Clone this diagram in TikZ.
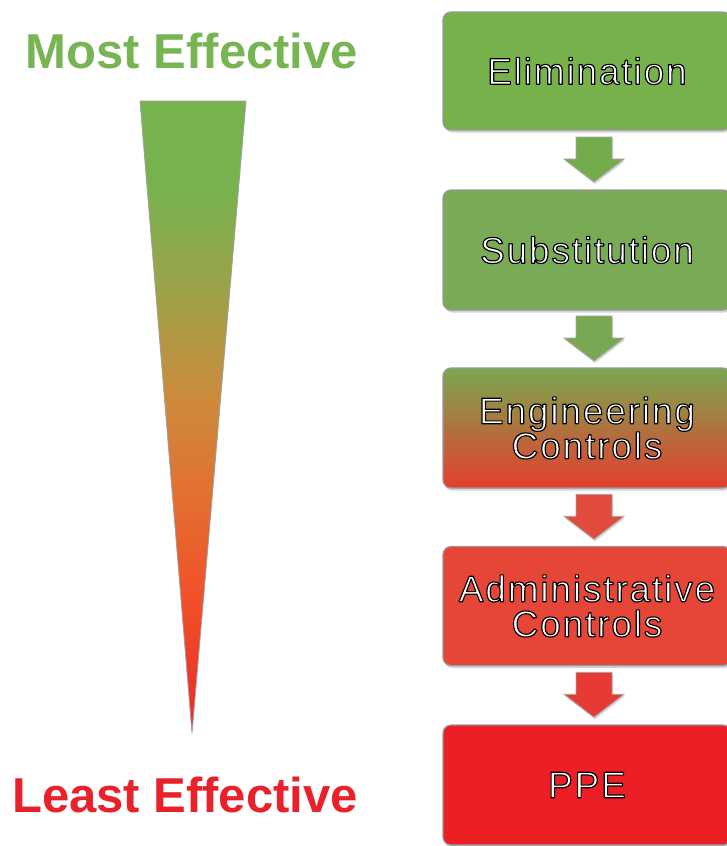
\documentclass[tikz,border=0pt]{standalone}
\usepackage{fontspec}
\setmainfont{Liberation Sans}
\usetikzlibrary{shadows,calc}
\definecolor{mostG}{RGB}{119,181,82}
\definecolor{leastR}{RGB}{232,33,42}
\definecolor{boxA}{RGB}{118,177,76}
\definecolor{boxB}{RGB}{121,170,85}
\definecolor{boxCt}{RGB}{121,168,80}
\definecolor{boxCb}{RGB}{228,62,46}
\definecolor{boxD}{RGB}{230,70,56}
\definecolor{boxE}{RGB}{236,30,38}
\definecolor{arrA}{RGB}{116,172,76}
\definecolor{arrB}{RGB}{120,168,82}
\definecolor{arrC}{RGB}{226,74,62}
\definecolor{arrD}{RGB}{232,58,53}
\definecolor{tA}{RGB}{235,40,40}
\definecolor{tB}{RGB}{238,52,40}
\definecolor{tC}{RGB}{240,80,40}
\definecolor{tD}{RGB}{228,110,50}
\definecolor{tE}{RGB}{205,138,60}
\definecolor{tF}{RGB}{160,160,72}
\definecolor{tG}{RGB}{120,178,78}
\definecolor{tH}{RGB}{118,178,78}
\pgfdeclareverticalshading{trishade}{100bp}{color(0bp)=(tA); color(25bp)=(tA); color(28.4bp)=(tB); color(35.5bp)=(tC); color(43.4bp)=(tD); color(51.3bp)=(tE); color(59.3bp)=(tF); color(68bp)=(tG); color(75bp)=(tH); color(100bp)=(tH)}
% white text with a black outline (text render mode 2)
\newcommand\outl[1]{{\color{white}\special{pdf:literal direct 0 G 1.15 w 1 j 2 Tr}#1\special{pdf:literal direct 0 Tr}}}
\begin{document}
\begin{tikzpicture}[x=1pt,y=-1pt,
  hbox/.style={rectangle, rounded corners=8pt, minimum width=288pt, draw=gray!80, line width=1.2pt,
    align=center, text=white, inner sep=0pt,
    font=\fontsize{37}{35}\selectfont\addfontfeatures{LetterSpace=5},
    drop shadow={opacity=0.35, shadow xshift=1.5pt, shadow yshift=-2.5pt}},
  harr/.style={draw=gray!70, line width=0.8pt,
    drop shadow={opacity=0.3, shadow xshift=1pt, shadow yshift=-2pt}},
  biglab/.style={anchor=base, inner sep=0pt, font=\bfseries\fontsize{49}{58}\selectfont}]
\fill[white] (0,0) rectangle (727,846);
\useasboundingbox (0,0) rectangle (727,846);

% gradient triangle
\shade[shading=trishade, draw=gray!75, line width=0.8pt] (140,101) -- (246,101) -- (192,733) -- cycle;

\node[biglab, text=mostG] (most) at (192,68) {Most Effective};
\node[biglab, text=leastR] (least) at (185,812) {Least Effective};

% boxes
\node[hbox, fill=boxA, minimum height=118pt] (b1) at (587,71) {\outl{Elimination}};
\node[hbox, fill=boxB, minimum height=120pt] (b2) at (587,250) {\outl{Substitution}};
\node[hbox, top color=boxCt, bottom color=boxCb, minimum height=120pt] (b3) at (587,428)
  {\outl{Engineering}\\\outl{Controls}};
\node[hbox, fill=boxD, minimum height=119pt] (b4) at (587,606) {\outl{Administrative}\\\outl{Controls}};
\node[hbox, fill=boxE, minimum height=120pt] (b5) at (587,785) {\outl{PPE}};

% arrows
\coordinate (a1) at ($(b1.south)!0.5!(b2.north)+(7,0)$);
\coordinate (a2) at ($(b2.south)!0.5!(b3.north)+(7,0)$);
\coordinate (a3) at ($(b3.south)!0.5!(b4.north)+(7,0)$);
\coordinate (a4) at ($(b4.south)!0.5!(b5.north)+(7,0)$);
\foreach \c/\col in {a1/arrA, a2/arrB, a3/arrC, a4/arrD}{
  \filldraw[harr, fill=\col, shift={(\c)}] (-18,-23) -- (18,-23) -- (18,-1) -- (30,-1) -- (0,22) -- (-30,-1) -- (-18,-1) -- cycle;
}
\end{tikzpicture}
\end{document}
